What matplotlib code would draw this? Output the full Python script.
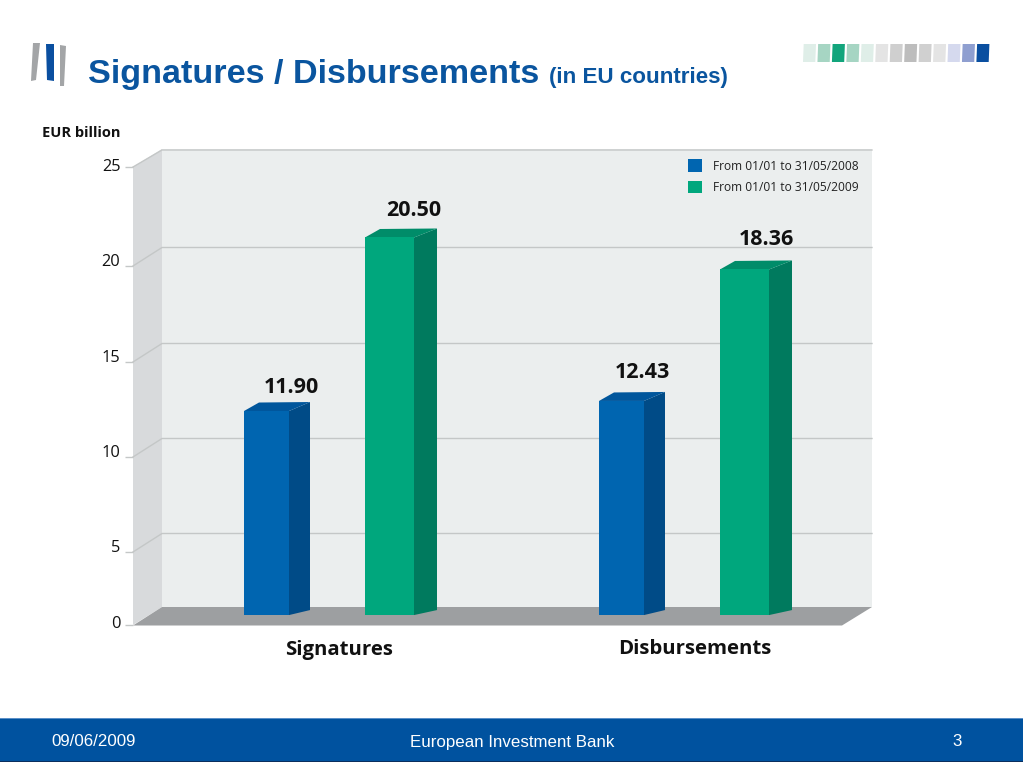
import numpy as np
import matplotlib
matplotlib.use("Agg")
import matplotlib.pyplot as plt
from matplotlib.patches import Polygon, Rectangle
from matplotlib.transforms import IdentityTransform, ScaledTranslation

W, H = 1023, 762

categories = ["Signatures", "Disbursements"]
legend_labels = ["From 01/01 to 31/05/2008", "From 01/01 to 31/05/2009"]
value_labels_2008 = ["11.90", "12.43"]
value_labels_2009 = ["20.50", "18.36"]
# bar tops as drawn, read against the printed axis (the picture is not to scale)
tops_2008 = [12.42, 12.95]
tops_2009 = [21.44, 19.82]
bar_base = 0.68
y_ticks = [0, 5, 10, 15, 20, 25]
# the printed axis is uneven, so pixel rows of each tick define the scale
tick_rows = [625, 552, 457, 362, 266, 167]

strip_colors = ["#dfeee8", "#a6d5c3", "#12a57c", "#a6d5c3", "#dfeee8", "#e4e4e4", "#cfcfcf",
                "#bdbdbd", "#d0d0d0", "#e4e4e4", "#d5d9ee", "#8f9fd0", "#0a4fa0"]

BLUE, BLUE_DARK, BLUE_TOP = "#0065b0", "#004b87", "#00569c"
GREEN, GREEN_DARK, GREEN_TOP = "#00a77d", "#007a5e", "#008c69"
TITLE_BLUE = "#0a559f"
FOOTER_BLUE = "#00529f"
CHART_FONT = "Open Sans"
SLIDE_FONT = "Liberation Sans"

fig = plt.figure(figsize=(W / 100, H / 100), dpi=100, facecolor="white")

# slide furniture, in pixel coordinates
bg = fig.add_axes([0, 0, 1, 1])
bg.set_xlim(0, W)
bg.set_ylim(H, 0)
bg.axis("off")

for pts, col in [
    ([(33, 43), (40, 43), (36, 80), (31, 81)], "#a3a5a7"),
    ([(46, 44), (54, 44), (54, 81), (47, 80)], "#0a4fa0"),
    ([(60, 45), (66, 46), (64, 86), (60, 86)], "#a3a5a7"),
]:
    bg.add_patch(Polygon(pts, closed=True, fc=col, ec="none"))

for i, col in enumerate(strip_colors):
    x0 = 803 + i * 14.45
    bg.add_patch(Polygon([(x0 + 0.7, 44), (x0 + 13, 44), (x0 + 12.3, 62), (x0, 62)],
                         closed=True, fc=col, ec="none"))

bg.text(88, 74, "Signatures / Disbursements", family=SLIDE_FONT, fontweight="bold",
        fontsize=24.6, color=TITLE_BLUE, va="center", ha="left")
bg.text(549, 77, "(in EU countries)", family=SLIDE_FONT, fontweight="bold",
        fontsize=16.1, color=TITLE_BLUE, va="center", ha="left")
bg.text(42, 133, "EUR billion", family=CHART_FONT, fontweight="bold", fontsize=10.5,
        color="#111111", va="center", ha="left")

bg.add_patch(Rectangle((0, 718), W, 43, fc=FOOTER_BLUE, ec="none"))
bg.add_patch(Rectangle((0, 717.5), W, 1, fc="#5b8fc7", ec="none"))
bg.add_patch(Rectangle((0, 760.5), W, 1.5, fc="#0b2f5e", ec="none"))
for x, txt, ha in [(51, "09/06/2009", "left"), (512, "European Investment Bank", "center"), (957, "3", "center")]:
    bg.text(x, 742, txt, family=SLIDE_FONT, fontsize=12.2, color="white", va="center", ha=ha)

# chart axes: front plane of the box, from the axis edge to the right of the back wall
left, right, zero_row, top_row = 133, 872, tick_rows[0], tick_rows[-1]
ax = fig.add_axes([left / W, 1 - zero_row / H, (right - left) / W, (zero_row - top_row) / H])
ax.patch.set_visible(False)

heights = [zero_row - r for r in tick_rows]


def forward(v):
    return np.interp(v, y_ticks, heights)


def inverse(p):
    return np.interp(p, heights, y_ticks)


ax.set_yscale("function", functions=(forward, inverse))
ax.set_ylim(0, 25)

group_px = 355
x_cat = np.arange(len(categories))
ax.set_xlim((left - 328) / group_px, (right - 328) / group_px)
bar_shift = 61.5 / group_px
width_2008, width_2009 = 45 / group_px, 49 / group_px


def shifted(x, v, dx, dy):
    px = ax.transData.transform((x, v))
    return px[0] + dx, px[1] + dy


def face(pts, color, z):
    ax.add_patch(Polygon(pts, closed=True, fc=color, ec="none", transform=IdentityTransform(),
                         zorder=z, clip_on=False))


x_min, x_max = ax.get_xlim()
wall_dx = 29

# box walls and floor
corner_low = shifted(x_min, 0, wall_dx, 18)
face([shifted(x_min, 0, wall_dx, 0), shifted(x_max, 0, 0, 18), shifted(x_max, 25, 0, 18), shifted(x_min, 25, wall_dx, 18)],
     "#ebeeee", 0.5)
face([shifted(x_min, 0, 0, 0), corner_low, shifted(x_min, 25, wall_dx, 18), shifted(x_min, 25, 0, 0)], "#d8dadc", 0.6)
face([shifted(x_min, 0, 0, -0.5), corner_low, shifted(x_max, 0, 0, 18), shifted(x_max, 0, -30, -0.5)], "#9d9fa1", 0.7)

# gridlines run along the side wall then across the back wall
for v in y_ticks[1:]:
    rise = 18.5 if v < 25 else 17
    x0, y0 = shifted(x_min, v, 0, 0)
    x1, y1 = shifted(x_min, v, wall_dx, rise)
    x2, y2 = shifted(x_max, v, 0, rise)
    ax.plot([x0, x1, x2], [y0, y1, y2], color="#c4c7c7", lw=1.0, transform=IdentityTransform(),
            zorder=0.8, clip_on=False, solid_joinstyle="miter")

bars_2008 = ax.bar(x_cat - bar_shift, np.array(tops_2008) - bar_base, width_2008, bottom=bar_base,
                   color=BLUE, zorder=3, label=legend_labels[0])
bars_2009 = ax.bar(x_cat + bar_shift, np.array(tops_2009) - bar_base, width_2009, bottom=bar_base,
                   color=GREEN, zorder=3, label=legend_labels[1])


def extrude(bar, side_color, top_color, dx):
    x0 = bar.get_x()
    x1 = x0 + bar.get_width()
    y0 = bar.get_y()
    y1 = y0 + bar.get_height()
    face([shifted(x1, y0, 0, 0), shifted(x1, y0, dx, 5), shifted(x1, y1, dx, 9), shifted(x1, y1, 0, 0)], side_color, 2.9)
    face([shifted(x0, y1, 0, 0), shifted(x0, y1, 15, 8.5), shifted(x1, y1, dx, 9), shifted(x1, y1, 0, 0)], top_color, 2.9)


for bar in bars_2008:
    extrude(bar, BLUE_DARK, BLUE_TOP, 21)
for bar in bars_2009:
    extrude(bar, GREEN_DARK, GREEN_TOP, 23)

# value labels: offsets from the top of each front face, in pixels
label_opts = dict(textcoords="offset pixels", ha="center", va="center", family=CHART_FONT,
                  fontweight="bold", fontsize=15.5, color="#111111", annotation_clip=False)
for bar, top, txt, off in zip(bars_2008, tops_2008, value_labels_2008, [(25, 24), (20.5, 28)]):
    ax.annotate(txt, (bar.get_x() + bar.get_width() / 2, top), xytext=off, **label_opts)
for bar, top, txt, off in zip(bars_2009, tops_2009, value_labels_2009, [(24, 26.5), (22, 30)]):
    ax.annotate(txt, (bar.get_x() + bar.get_width() / 2, top), xytext=off, **label_opts)

for x, name, off in zip(x_cat, categories, [(11, -25), (12, -24)]):
    ax.annotate(name, (x, 0), xytext=off, textcoords="offset pixels", ha="center", va="center",
                family=CHART_FONT, fontweight="bold", fontsize=14.7, color="#111111", annotation_clip=False)

ax.set_yticks(y_ticks)
ax.set_xticks([])
ax.minorticks_off()
ax.tick_params(axis="y", length=6, width=1, color="#c4c7c7", pad=3, labelsize=11.8, labelcolor="#111111")
# printed numbers sit a little above their tick marks, by a different amount at each end
for lab, up in zip(ax.get_yticklabels(), [1, 4, 4, 4, 4, 0]):
    lab.set_family(CHART_FONT)
    lab.set_verticalalignment("center")
    lab.set_transform(lab.get_transform() + ScaledTranslation(0, up / fig.dpi, fig.dpi_scale_trans))
for side in ax.spines.values():
    side.set_visible(False)

leg = ax.legend(handles=[bars_2008, bars_2009], loc="upper left", frameon=False,
                bbox_to_anchor=((688 - left) / (right - left), 1 + 7.5 / (zero_row - top_row)),
                prop={"family": CHART_FONT, "size": 8.65}, handlelength=1.17, handleheight=1.17,
                handletextpad=0.9, labelspacing=0.68, borderpad=0, borderaxespad=0)
for t in leg.get_texts():
    t.set_color("#222222")

fig.savefig("out.png", dpi=100, facecolor="white")
plt.close(fig)
